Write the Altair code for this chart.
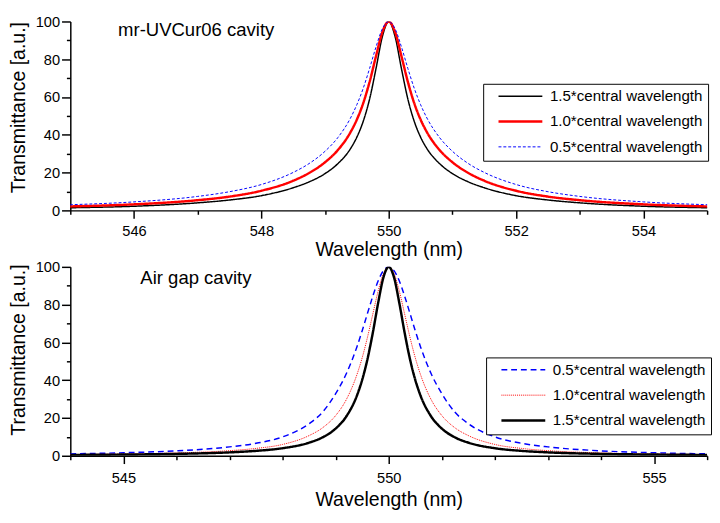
import altair as alt
import pandas as pd

# ---- data (symmetric peaks around 550 nm) ----
center = 550.0
offsets = [0.0, 0.1, 0.2, 0.3, 0.4, 0.5, 0.6, 0.8, 1.0, 1.25, 1.5, 2.0, 2.5, 3.0, 4.0, 5.0, 6.0]

top_series = ["1.5*central wavelength", "1.0*central wavelength", "0.5*central wavelength"]
top_black = [100, 92, 75, 59, 47.2, 38.8, 32.7, 24.7, 19.5, 15.1, 12, 7.8, 5.5, 4.0, 2.2, 1.4, 1.0]
top_red = [100, 94.4, 81.6, 68.1, 56.8, 48.1, 41.4, 31.9, 25.5, 19.8, 15.7, 10.4, 7.3, 5.4, 3.2, 2.1, 1.5]
top_blue = [100, 96.1, 86.5, 75.2, 64.7, 56, 48.9, 38.5, 31.3, 24.8, 20.1, 13.7, 9.9, 7.4, 4.5, 3.0, 2.1]

bot_series = ["0.5*central wavelength", "1.0*central wavelength", "1.5*central wavelength"]
bot_blue = [100, 98, 92.5, 84.5, 75.4, 66.2, 57.6, 43.4, 32.9, 23, 17, 10, 6.6, 4.7, 2.6, 1.6, 1.0]
bot_red = [100, 96.4, 87.1, 75, 62.8, 51.9, 42.9, 29.7, 21.3, 14.75, 10.7, 6.0, 3.9, 2.7, 1.5, 0.95, 0.65]
bot_black = [100, 94.4, 80.8, 65.1, 51.2, 40.2, 31.8, 20.8, 14.4, 9.7, 6.95, 4.0, 2.6, 1.8, 1.0, 0.65, 0.45]

top_x_ticks = list(range(545, 556))
bot_x_ticks = list(range(544, 557))
y_ticks = list(range(0, 101, 10))

FONT = "Liberation Sans"


def mirror(vals):
    wl = [center - d for d in reversed(offsets[1:])] + [center + d for d in offsets]
    v = list(reversed(vals[1:])) + list(vals)
    return wl, v


def build(series_names, series_vals):
    rows = []
    for name, vals in zip(series_names, series_vals):
        wl, v = mirror(vals)
        for a, b in zip(wl, v):
            rows.append({"wl": a, "T": b, "series": name})
    return pd.DataFrame(rows)


top_df = build(top_series, [top_black, top_red, top_blue])
bot_df = build(bot_series, [bot_blue, bot_red, bot_black])

W, H = 654, 194


def panel(df, domain_x, xticks, major_step, names, colors, dashes, widths,
          legx, legy, label, label_x, label_y, title_y, lab_pad, tit_pad):
    legend = alt.Legend(
        title=None, orient="none", legendX=legx, legendY=legy,
        strokeColor="black", fillColor="white", padding=5,
        symbolType="M0,0H9", symbolSize=100, symbolOffset=3,
        labelFont=FONT, labelFontSize=15.5, labelColor="black", labelLimit=400,
        labelOffset=45, rowPadding=9, symbolStrokeWidth=1.5,
    )
    x_scale = alt.Scale(domain=domain_x, nice=False, zero=False)
    y_scale = alt.Scale(domain=[0, 100], nice=False)
    x_axis = alt.Axis(
        values=xticks, title="Wavelength (nm)", format="d",
        labelExpr=f"datum.value % {major_step} === 0 ? datum.label : ''",
        tickSize={"condition": {"test": f"datum.value % {major_step} === 0", "value": 8}, "value": 4},
        labelPadding=lab_pad, titlePadding=tit_pad, labelFlush=False, labelOverlap=False,
    )
    y_axis = alt.Axis(
        values=y_ticks, title="Transmittance [a.u.]", format="d",
        labelExpr="datum.value % 20 === 0 ? datum.label : ''",
        tickSize={"condition": {"test": "datum.value % 20 === 0", "value": 9}, "value": 4},
        labelPadding=2, titlePadding=7, titleY=title_y, labelOverlap=False, labelFlush=False,
    )
    lines = alt.Chart(df).mark_line(interpolate="monotone", clip=True).encode(
        x=alt.X("wl:Q", scale=x_scale, axis=x_axis),
        y=alt.Y("T:Q", scale=y_scale, axis=y_axis),
        color=alt.Color("series:N", scale=alt.Scale(domain=names, range=colors), legend=legend),
        strokeDash=alt.StrokeDash("series:N", scale=alt.Scale(domain=names, range=dashes), legend=legend),
        strokeWidth=alt.StrokeWidth("series:N", scale=alt.Scale(type="ordinal", domain=names, range=widths),
                                    legend=legend),
        order=alt.Order("wl:Q"),
    )
    txt = alt.Chart(pd.DataFrame({"t": [label]})).mark_text(
        align="left", baseline="middle", font=FONT, fontSize=19, color="black"
    ).encode(
        x=alt.XDatum(label_x, type="quantitative", scale=x_scale, axis=x_axis),
        y=alt.YDatum(label_y, type="quantitative", scale=y_scale, axis=y_axis),
        text="t:N",
    )
    return alt.layer(lines, txt).properties(width=W, height=H).resolve_scale(
        color="independent", strokeDash="independent", strokeWidth="independent")


top = panel(top_df, [545, 555], top_x_ticks, 2, top_series,
            ["#000000", "#ff0000", "#0000ff"], [[1, 0], [1, 0], [3, 2]], [1.5, 2.5, 1.0],
            424, 64, "mr-UVCur06 cavity", 545.75, 95.5, 88, 6, 1)
bot = panel(bot_df, [544, 556], bot_x_ticks, 5, bot_series,
            ["#0000ff", "#ff0000", "#000000"], [[6, 4], [1, 1], [1, 0]], [1.5, 1.0, 2.5],
            427, 93, "Air gap cavity", 545.32, 94, 85, 7, 5)

chart = alt.vconcat(top, bot, spacing=58, bounds="flush").resolve_scale(
    color="independent", strokeDash="independent", strokeWidth="independent"
).properties(
    padding={"left": 0, "top": 0, "right": 0, "bottom": 0}
).configure_view(stroke=None).configure_axis(
    labelFont=FONT, labelFontSize=15, labelColor="black", labelOverlap=False,
    titleFont=FONT, titleFontSize=20, titleFontWeight="normal", titleColor="black",
    domainColor="black", domainWidth=1.5, tickColor="black", tickWidth=1.5, grid=False,
)

chart.save("out.html", embed_options={"renderer": "svg", "actions": False})
